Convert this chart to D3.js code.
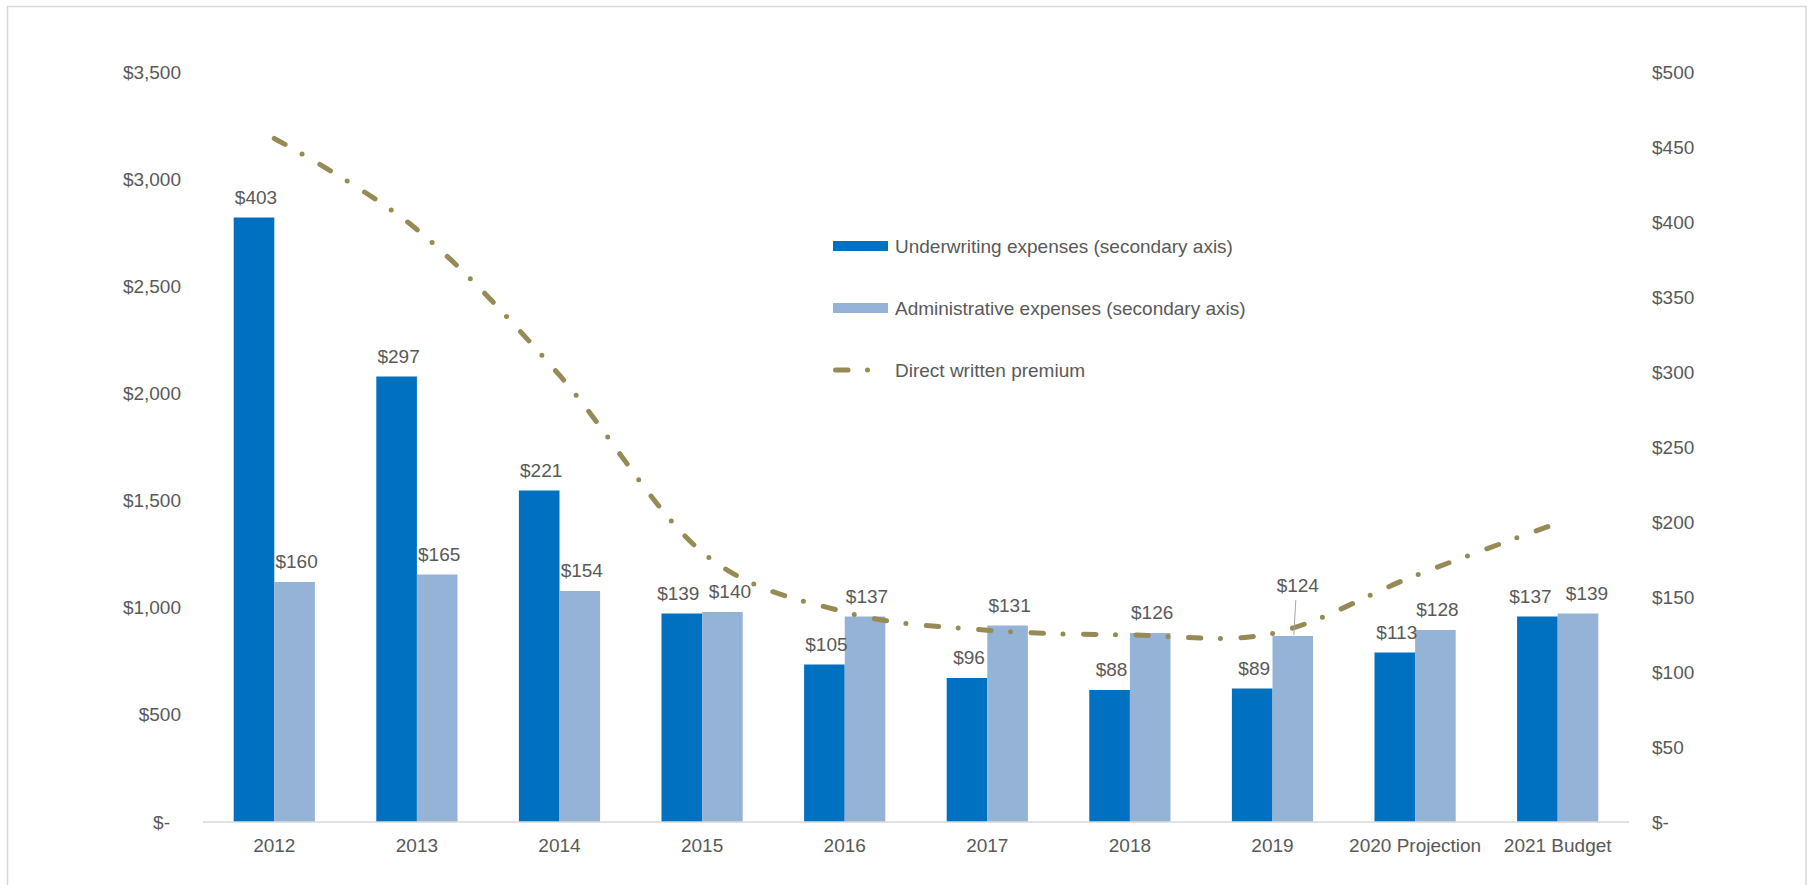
<!DOCTYPE html>
<html>
<head>
<meta charset="utf-8">
<script src="https://cdn.jsdelivr.net/npm/d3@7"></script>
<style>
  body { margin: 0; background: #fff; }
  text { font-family: "Liberation Sans", Arial, sans-serif; fill: #595959; }
</style>
</head>
<body>
<div id="chart"></div>
<script>
const categories = ["2012", "2013", "2014", "2015", "2016", "2017", "2018", "2019", "2020 Projection", "2021 Budget"];
const underwriting = [403, 297, 221, 139, 105, 96, 88, 89, 113, 137];
const administrative = [160, 165, 154, 140, 137, 131, 126, 124, 128, 139];
const premium = [3190, 2765, 2085, 1260, 980, 895, 873, 880, 1150, 1395];
const leftTicks = [0, 500, 1000, 1500, 2000, 2500, 3000, 3500];
const rightTicks = [0, 50, 100, 150, 200, 250, 300, 350, 400, 450, 500];

const width = 1810, height = 885;
const plotLeft = 203, plotRight = 1629, plotTop = 72, plotBottom = 822;
const fontSize = 19;

// labels nudged sideways where they would collide (px)
const labelNudge = {
    "2015": {uw: -3.5, adm: 7.5},
    "2021 Budget": {uw: -7, adm: 9}
};

const svg = d3.select("#chart")
    .append("svg")
    .attr("width", width)
    .attr("height", height);

// chart frame
svg.append("rect")
    .attr("x", 7.5)
    .attr("y", 6.5)
    .attr("width", 1798.5)
    .attr("height", 900)
    .attr("fill", "none")
    .attr("stroke", "#D9D9D9")
    .attr("stroke-width", 1.5);

const x = d3.scaleBand().domain(categories).range([plotLeft, plotRight]);
const xSub = d3.scaleBand().domain(["uw", "adm"]).range([0, x.bandwidth()]).paddingOuter(0.756);
const yL = d3.scaleLinear().domain([0, 3500]).range([plotBottom, plotTop]);
const yR = d3.scaleLinear().domain([0, 500]).range([plotBottom, plotTop]);

const fmtL = d => d === 0 ? "$-" : "$" + d3.format(",")(d);

// left axis
const gL = svg.append("g")
    .attr("transform", `translate(${plotLeft},0)`)
    .call(d3.axisLeft(yL).tickValues(leftTicks).tickSize(0).tickPadding(22).tickFormat(fmtL));
gL.select(".domain").remove();
gL.selectAll("text").attr("font-size", fontSize).attr("font-family", null).attr("fill", "#595959");
gL.selectAll(".tick").filter(d => d === 0).select("text").attr("dx", -11);

// right axis
const gR = svg.append("g")
    .attr("transform", `translate(${plotRight},0)`)
    .call(d3.axisRight(yR).tickValues(rightTicks).tickSize(0).tickPadding(23).tickFormat(fmtL));
gR.select(".domain").remove();
gR.selectAll("text").attr("font-size", fontSize).attr("font-family", null).attr("fill", "#595959");

// bars
const bars = categories.map((c, i) => [
    {cat: c, key: "uw", v: underwriting[i], color: "#0070C0"},
    {cat: c, key: "adm", v: administrative[i], color: "#95B3D7"}
]).flat();

svg.append("g").selectAll("rect")
    .data(bars)
    .enter()
    .append("rect")
    .attr("x", d => x(d.cat) + xSub(d.key))
    .attr("y", d => yR(d.v))
    .attr("width", xSub.bandwidth())
    .attr("height", d => plotBottom - yR(d.v))
    .attr("fill", d => d.color);

// x axis baseline
svg.append("line")
    .attr("x1", plotLeft)
    .attr("x2", plotRight)
    .attr("y1", plotBottom)
    .attr("y2", plotBottom)
    .attr("stroke", "#D9D9D9")
    .attr("stroke-width", 1.5);

const gX = svg.append("g")
    .attr("transform", `translate(0,${plotBottom})`)
    .call(d3.axisBottom(x).tickSize(0).tickPadding(16.5));
gX.select(".domain").remove();
gX.selectAll("text").attr("font-size", fontSize).attr("font-family", null).attr("fill", "#595959");

// premium line
const dash = "12.5 19.5 0 20.5";
const line = d3.line()
    .x((d, i) => x(categories[i]) + x.bandwidth() / 2)
    .y(d => yL(d))
    .curve(d3.curveCardinal.tension(0));

svg.append("path")
    .datum(premium)
    .attr("d", line)
    .attr("fill", "none")
    .attr("stroke", "#968B55")
    .attr("stroke-width", 5)
    .attr("stroke-linecap", "round")
    .attr("stroke-dasharray", dash);

// data labels
const labels = svg.append("g");
bars.forEach(d => {
    const bx = x(d.cat) + xSub(d.key) + xSub.bandwidth() / 2;
    const nudge = labelNudge[d.cat] ? labelNudge[d.cat][d.key] : 2;
    let lx = bx + nudge;
    let ly = yR(d.v) - 14;
    if (d.cat === "2019" && d.key === "adm") {
        lx = bx + 5;
        ly = yR(d.v) - 44;
        labels.append("line")
            .attr("x1", bx + 3)
            .attr("y1", ly + 8)
            .attr("x2", bx + 1)
            .attr("y2", yR(d.v) - 1)
            .attr("stroke", "#A6A6A6")
            .attr("stroke-width", 1);
    }
    labels.append("text")
        .attr("x", lx)
        .attr("y", ly)
        .attr("text-anchor", "middle")
        .attr("font-size", fontSize)
        .text("$" + d.v);
});

// legend
const legend = svg.append("g");
const legendItems = [
    {name: "Underwriting expenses (secondary axis)", type: "bar", color: "#0070C0", y: 246},
    {name: "Administrative expenses (secondary axis)", type: "bar", color: "#95B3D7", y: 308},
    {name: "Direct written premium", type: "line", color: "#968B55", y: 370}
];
legendItems.forEach(d => {
    if (d.type === "bar") {
        legend.append("rect")
            .attr("x", 833)
            .attr("y", d.y - 5)
            .attr("width", 55)
            .attr("height", 10)
            .attr("fill", d.color);
    } else {
        legend.append("line")
            .attr("x1", 835.5)
            .attr("x2", 888)
            .attr("y1", d.y)
            .attr("y2", d.y)
            .attr("stroke", d.color)
            .attr("stroke-width", 5)
            .attr("stroke-linecap", "round")
            .attr("stroke-dasharray", dash);
    }
    legend.append("text")
        .attr("x", 895)
        .attr("y", d.y)
        .attr("dy", "0.35em")
        .attr("font-size", fontSize)
        .text(d.name);
});
</script>
</body>
</html>
